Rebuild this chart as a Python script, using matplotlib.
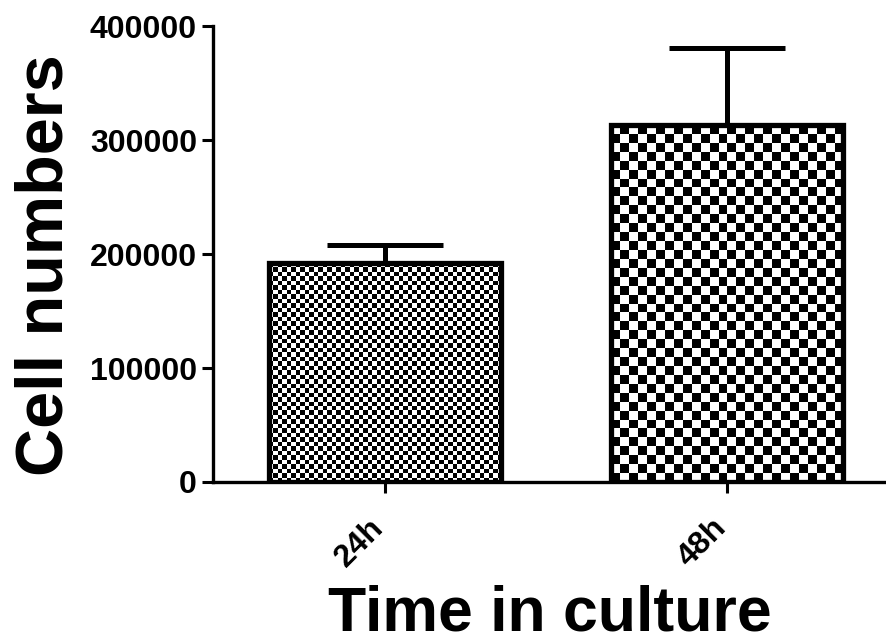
import numpy as np
import matplotlib.pyplot as plt
import matplotlib.transforms as mtransforms

# データ
groups = ["24h", "48h"]
means = [192000, 313000]
sems = [16000, 68000]
cell_px = [4.5, 9.0]  # チェック模様のマスの大きさ (px)

plt.rcParams["font.family"] = ["Liberation Sans", "DejaVu Sans"]
plt.rcParams["font.weight"] = "bold"

fig = plt.figure(figsize=(8.87, 6.43), dpi=100, facecolor="white")
ax = fig.add_axes([0.240, 0.2504, 0.760, 0.709])

x = np.arange(len(groups))
bars = ax.bar(x, means, width=0.68, facecolor="none", edgecolor="black",
              linewidth=3.8, zorder=3)
ax.errorbar(x, means, yerr=[np.zeros(len(sems)), sems], fmt="none",
            ecolor="black", elinewidth=3.6, capsize=42, capthick=3.6,
            zorder=2)

ax.set_xlim(-0.503, 1.468)
ax.set_ylim(0, 400000)
ax.set_yticks([0, 100000, 200000, 300000, 400000])
ax.set_yticklabels(["0", "100000", "200000", "300000", "400000"])
ax.set_xticks(x)
ax.set_xticklabels(groups, rotation=45, ha="right", rotation_mode="anchor")

fig.canvas.draw()

# チェック模様を棒の中に描く
for bar, cpx in zip(bars, cell_px):
    bb = bar.get_window_extent()
    nx = max(1, int(round(bb.width / cpx)))
    ny = max(1, int(round(bb.height / cpx)))
    ii, jj = np.indices((ny, nx))
    board = (ii + jj) % 2
    x0, y0 = bar.get_x(), bar.get_y()
    im = ax.imshow(board, cmap="gray", interpolation="nearest", aspect="auto",
                   extent=[x0, x0 + bar.get_width(), y0, y0 + bar.get_height()],
                   origin="lower", zorder=2.5)
    im.set_clip_path(bar)

ax.set_xlim(-0.503, 1.468)
ax.set_ylim(0, 400000)

for s in ["top", "right"]:
    ax.spines[s].set_visible(False)
for s in ["left", "bottom"]:
    ax.spines[s].set_linewidth(2.4)
    ax.spines[s].set_zorder(4)

ax.tick_params(axis="both", width=2.2, length=8, labelsize=23)
ax.tick_params(axis="x", pad=14)

# x目盛りラベルを少し左へ
offset = mtransforms.ScaledTranslation(-16 / 100, 0, fig.dpi_scale_trans)
for lab in ax.get_xticklabels():
    lab.set_transform(lab.get_transform() + offset)

ax.set_ylabel("Cell numbers", fontsize=48, fontweight="bold")
ax.yaxis.set_label_coords(-0.203, 0.476)
ax.set_xlabel("Time in culture", fontsize=45, fontweight="bold")
ax.xaxis.set_label_coords(0.5, -0.224)

fig.savefig("out.png", dpi=100, facecolor="white")
